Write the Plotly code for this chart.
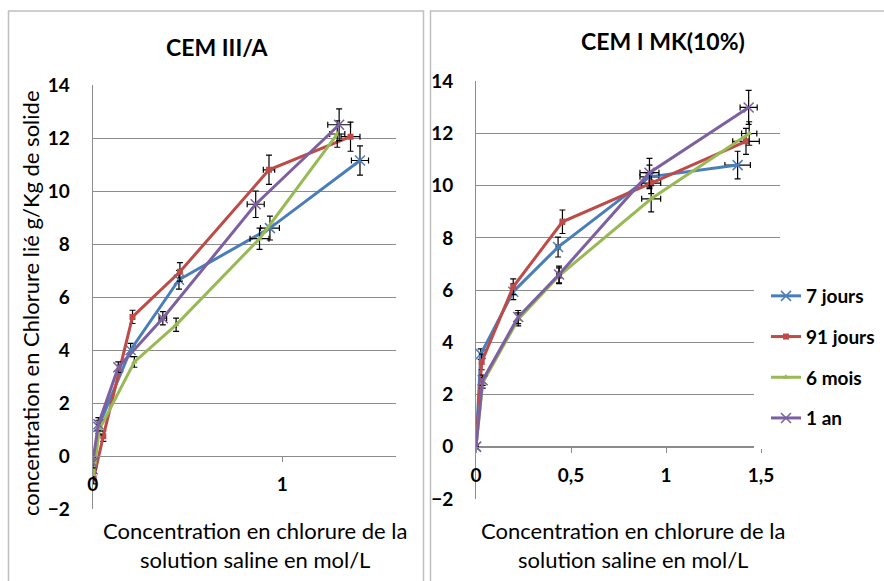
import plotly.graph_objects as go

# ---------------- DATA ----------------
series_names = ["7 jours", "91 jours", "6 mois", "1 an"]

# Left panel : CEM III/A
x_L = {
    "7 jours":  [0.0, 0.03, 0.20, 0.455, 0.935, 1.41],
    "91 jours": [0.005, 0.056, 0.21, 0.46, 0.93, 1.36],
    "6 mois":   [0.005, 0.035, 0.22, 0.44, 0.88, 1.29],
    "1 an":     [0.0, 0.03, 0.135, 0.37, 0.86, 1.30],
}
y_L = {
    "7 jours":  [-0.5, 1.1, 4.0, 6.65, 8.6, 11.15],
    "91 jours": [-0.85, 0.75, 5.25, 6.95, 10.8, 12.05],
    "6 mois":   [-0.7, 1.0, 3.55, 4.95, 8.2, 12.15],
    "1 an":     [-0.25, 1.2, 3.35, 5.2, 9.5, 12.5],
}
ey_L = {
    "7 jours":  [0.2, 0.25, 0.25, 0.35, 0.45, 0.55],
    "91 jours": [0.2, 0.2, 0.25, 0.35, 0.55, 0.55],
    "6 mois":   [0.2, 0.2, 0.2, 0.25, 0.4, 0.5],
    "1 an":     [0.2, 0.25, 0.2, 0.25, 0.5, 0.6],
}
ex_L = {
    "7 jours":  [0, 0, 0, 0, 0.05, 0.045],
    "91 jours": [0, 0, 0, 0, 0.03, 0.05],
    "6 mois":   [0, 0, 0, 0, 0.05, 0.04],
    "1 an":     [0, 0, 0, 0.02, 0.045, 0.06],
}

# Right panel : CEM I MK(10%)
x_R = {
    "7 jours":  [0.0, 0.025, 0.196, 0.432, 0.913, 1.377],
    "91 jours": [0.0, 0.03, 0.196, 0.455, 0.922, 1.421],
    "6 mois":   [0.0, 0.035, 0.222, 0.437, 0.922, 1.438],
    "1 an":     [0.0, 0.035, 0.222, 0.437, 0.913, 1.435],
}
y_R = {
    "7 jours":  [0.0, 3.55, 5.94, 7.65, 10.34, 10.79],
    "91 jours": [0.0, 3.25, 6.13, 8.62, 10.1, 11.7],
    "6 mois":   [0.0, 2.45, 4.88, 6.55, 9.5, 12.0],
    "1 an":     [0.0, 2.55, 4.97, 6.6, 10.5, 13.0],
}
ey_R = {
    "7 jours":  [0, 0.2, 0.3, 0.38, 0.45, 0.53],
    "91 jours": [0, 0.3, 0.3, 0.45, 0.4, 0.5],
    "6 mois":   [0, 0.2, 0.25, 0.3, 0.5, 0.45],
    "1 an":     [0, 0.2, 0.25, 0.32, 0.55, 0.65],
}
ex_R = {
    "7 jours":  [0, 0, 0, 0.01, 0.05, 0.067],
    "91 jours": [0, 0, 0, 0.01, 0.05, 0.07],
    "6 mois":   [0, 0, 0, 0.01, 0.05, 0.04],
    "1 an":     [0, 0, 0, 0.01, 0.05, 0.045],
}

title_L = "CEM III/A"
title_R = "CEM I MK(10%)"
x_title = "Concentration en chlorure de la<br>solution saline en mol/L"
y_title = "concentration en Chlorure lié g/Kg de solide"

# ---------------- STYLE ----------------
W, H = 884, 581
colors = {"7 jours": "#4A7EBB", "91 jours": "#BE4B48", "6 mois": "#98B954", "1 an": "#7D60A0"}
markers = {
    "7 jours": dict(symbol="x-thin-open", size=10, line=dict(width=1.5, color="#7FA8DC")),
    "91 jours": dict(symbol="square", size=6),
    "6 mois": dict(symbol="triangle-up", size=6),
    "1 an": dict(symbol="x-thin-open", size=10, line=dict(width=1.5, color="#9F86C0")),
}
FONT = "Lato"
grid_col = "#8C8C8C"

def px(v):
    return v / W

def py(v):
    return 1 - v / H

fig = go.Figure()

for side, xs, ys, exs, eys, xa, ya, show in [
    ("L", x_L, y_L, ex_L, ey_L, "x", "y", False),
    ("R", x_R, y_R, ex_R, ey_R, "x2", "y2", True),
]:
    for name in series_names:
        mk = dict(markers[name])
        mk["color"] = colors[name]
        fig.add_trace(go.Scatter(
            x=xs[name], y=ys[name], name=name, legendgroup=name, showlegend=show,
            mode="lines+markers", xaxis=xa, yaxis=ya,
            line=dict(color=colors[name], width=3),
            marker=mk,
            error_y=dict(type="data", array=eys[name], color="black", thickness=1.2, width=3),
            error_x=dict(type="data", array=exs[name], color="black", thickness=1.2, width=3),
        ))

tickfont = dict(family=FONT, size=19, color="black", weight="bold")

common_x = dict(range=[0, 1.6], showgrid=False, zeroline=False, showline=True, automargin=False,
                linecolor=grid_col, linewidth=1, ticks="outside", ticklen=5,
                tickcolor=grid_col, tickfont=tickfont, ticklabelstandoff=6)
common_y = dict(range=[-2, 14], dtick=2, showgrid=True, gridcolor=grid_col, gridwidth=1,
                automargin=False,
                zeroline=False, showline=True, linecolor=grid_col, linewidth=1,
                ticks="", tickfont=tickfont, ticklabelstandoff=18)

fig.update_layout(
    width=W, height=H, autosize=False,
    margin=dict(l=0, r=0, t=0, b=0, pad=0, autoexpand=False),
    paper_bgcolor="white", plot_bgcolor="white",
    separators=", ",
    font=dict(family=FONT, color="black"),
    xaxis=dict(common_x, domain=[px(92.7), px(396)], anchor="free", position=py(456), dtick=1),
    yaxis=dict(common_y, domain=[py(509), py(85)], anchor="x"),
    xaxis2=dict(common_x, domain=[px(476), px(780)], anchor="free", position=py(446.7), dtick=0.5),
    yaxis2=dict(common_y, domain=[py(499), py(81.3)], anchor="x2"),
    legend=dict(x=px(754), y=py(265), xanchor="left", yanchor="top", bgcolor="white",
                bordercolor="white", borderwidth=12,
                font=dict(family=FONT, size=19, color="black", weight="bold"),
                tracegroupgap=13, itemwidth=30),
    showlegend=True,
)

# panel borders
fig.add_shape(type="rect", xref="paper", yref="paper", x0=px(8.5), x1=px(423.5), y0=py(600), y1=py(11),
              line=dict(color="#BFBFBF", width=1.5), fillcolor="rgba(0,0,0,0)", layer="below")
fig.add_shape(type="rect", xref="paper", yref="paper", x0=px(430.5), x1=px(900), y0=py(600), y1=py(11),
              line=dict(color="#BFBFBF", width=1.5), fillcolor="rgba(0,0,0,0)", layer="below")

# titles
ann = dict(xref="paper", yref="paper", showarrow=False, xanchor="center", yanchor="middle")
fig.add_annotation(text="<b>" + title_L + "</b>", x=px(217.5), y=py(47),
                   font=dict(family=FONT, size=23, color="black"), **ann)
fig.add_annotation(text="<b>" + title_R + "</b>", x=px(662.5), y=py(41),
                   font=dict(family=FONT, size=23, color="black"), **ann)
for cx in (255, 632.5):
    fig.add_annotation(text=x_title, x=px(cx), y=py(545),
                       font=dict(family=FONT, size=22, color="black"), **ann)
fig.add_annotation(text=y_title, x=px(31), y=py(303), textangle=-90,
                   font=dict(family=FONT, size=22, color="black"), **ann)

fig.write_html("out.html", config={"displayModeBar": False},
               post_script="document.body.style.margin='0';document.body.style.overflow='hidden';")
